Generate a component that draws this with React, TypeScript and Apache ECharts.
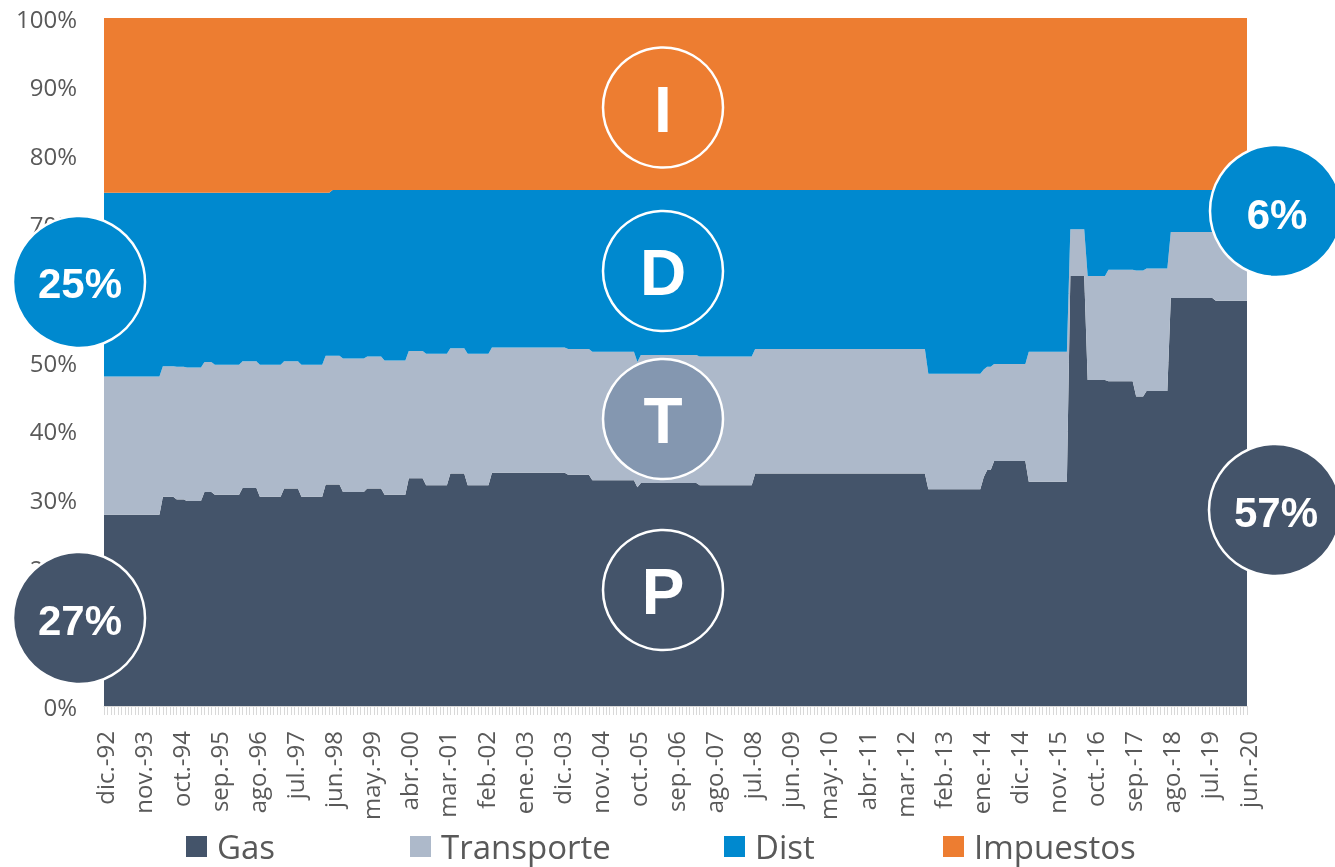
import React, { useEffect, useRef } from 'react';
import * as echarts from 'echarts';

// Month names (Spanish abbreviations) used for the category axis
const monthNames = ['ene.', 'feb.', 'mar.', 'abr.', 'may.', 'jun.', 'jul.', 'ago.', 'sep.', 'oct.', 'nov.', 'dic.'];
const firstYear = 1992;
const firstMonthIndex = 11; // dic.-92
const monthCount = 331; // dic.-92 .. jun.-20

// Runs of consecutive months holding the same shares
const runMonths = [17, 4, 3, 5, 3, 8, 5, 7, 5, 7, 2, 3, 7, 5, 7, 5, 7, 5, 7, 22, 7, 13, 1, 17, 16, 50, 16, 1, 2, 10, 12, 5, 6, 8, 3, 7, 13, 10];

const gasShare = [27.8, 30.4, 30.0, 29.8, 31.1, 30.7, 31.7, 30.4, 31.6, 30.4, 32.2, 32.2, 31.1, 31.6, 30.7, 33.1, 32.1, 33.8, 32.1, 33.9, 33.6, 32.8, 31.8, 32.4, 32.1, 33.8, 31.5, 33.3, 34.3, 35.6, 32.6, 62.5, 47.4, 47.2, 45.0, 45.8, 59.3, 58.9];
const transporteShare = [20.1, 19.0, 19.3, 19.4, 18.9, 18.9, 18.4, 19.2, 18.5, 19.2, 18.7, 18.7, 19.4, 19.2, 19.5, 18.5, 19.1, 18.2, 19.1, 18.2, 18.3, 18.7, 18.2, 18.6, 18.7, 18.1, 16.8, 15.6, 15.0, 14.1, 18.9, 6.8, 15.1, 16.2, 18.3, 17.8, 9.6, 10.0];
const distShare = [26.7, 25.2, 25.3, 25.4, 24.6, 25.0, 24.5, 25.0, 24.5, 25.0, 23.7, 24.1, 24.5, 24.2, 24.8, 23.4, 23.8, 23.0, 23.8, 22.9, 23.1, 23.5, 25.0, 24.0, 24.2, 23.1, 26.7, 26.1, 25.7, 25.3, 23.5, 5.7, 12.5, 11.6, 11.7, 11.4, 6.1, 6.1];
const impuestosShare = [25.4, 25.4, 25.4, 25.4, 25.4, 25.4, 25.4, 25.4, 25.4, 25.4, 25.4, 25.0, 25.0, 25.0, 25.0, 25.0, 25.0, 25.0, 25.0, 25.0, 25.0, 25.0, 25.0, 25.0, 25.0, 25.0, 25.0, 25.0, 25.0, 25.0, 25.0, 25.0, 25.0, 25.0, 25.0, 25.0, 25.0, 25.0];

const seriesNames = ['Gas', 'Transporte', 'Dist', 'Impuestos'];
const seriesColors = ['#44546A', '#ADB9CA', '#0089CF', '#ED7D31'];

// Annotation circles
const bigCircles = [
  { text: '25%', cx: 79, cy: 282, fill: '#0089CF', ty: 283 },
  { text: '27%', cx: 79, cy: 618, fill: '#44546A', ty: 620 },
  { text: '6%', cx: 1276, cy: 211, fill: '#0089CF', ty: 214 },
  { text: '57%', cx: 1275, cy: 510, fill: '#44546A', ty: 512 },
];
const letterCircles = [
  { text: 'I', cy: 107.5, fill: '#ED7D31' },
  { text: 'D', cy: 271, fill: '#0089CF' },
  { text: 'T', cy: 419, fill: '#8497B0' },
  { text: 'P', cy: 590, fill: '#44546A' },
];

function expandRuns(values: number[]): number[] {
  const out: number[] = [];
  values.forEach((v, k) => {
    for (let j = 0; j < runMonths[k]; j++) out.push(v);
  });
  return out;
}

function buildCategories(): string[] {
  const cats: string[] = [];
  for (let i = 0; i < monthCount; i++) {
    const m = (firstMonthIndex + i) % 12;
    const y = firstYear + Math.floor((firstMonthIndex + i) / 12);
    cats.push(monthNames[m] + '-' + String(y % 100).padStart(2, '0'));
  }
  return cats;
}

export default function App() {
  const ref = useRef<HTMLDivElement>(null);

  useEffect(() => {
    if (!ref.current) return;
    const chart = echarts.init(ref.current, undefined, { renderer: 'svg' });
    const categories = buildCategories();
    const shares = [gasShare, transporteShare, distShare, impuestosShare];
    const legendLefts = [186, 410, 724, 943];

    const graphic: any[] = [];
    letterCircles.forEach((c) => {
      graphic.push({
        type: 'circle',
        z: 100,
        shape: { cx: 663, cy: c.cy, r: 60 },
        style: { fill: c.fill, stroke: '#FFFFFF', lineWidth: 2.5 },
      });
      graphic.push({
        type: 'text',
        z: 101,
        x: 663,
        y: c.cy + 2,
        style: {
          text: c.text,
          fill: '#FFFFFF',
          font: 'bold 64px "Liberation Sans", Arial, sans-serif',
          textAlign: 'center',
          textVerticalAlign: 'middle',
          align: 'center',
          verticalAlign: 'middle',
        },
      });
    });
    bigCircles.forEach((c) => {
      graphic.push({
        type: 'circle',
        z: 100,
        shape: { cx: c.cx, cy: c.cy, r: 66 },
        style: { fill: c.fill, stroke: '#FFFFFF', lineWidth: 2.5 },
      });
      graphic.push({
        type: 'text',
        z: 101,
        x: c.cx + 1,
        y: c.ty,
        style: {
          text: c.text,
          fill: '#FFFFFF',
          font: 'bold 42px "Liberation Sans", Arial, sans-serif',
          textAlign: 'center',
          textVerticalAlign: 'middle',
          align: 'center',
          verticalAlign: 'middle',
        },
      });
    });

    chart.setOption({
      animation: false,
      textStyle: { fontFamily: '"Open Sans", sans-serif' },
      grid: { left: 104, right: 88, top: 18, bottom: 161, containLabel: false },
      legend: seriesNames.map((name, k) => ({
        data: [name],
        left: legendLefts[k],
        top: 830,
        padding: 0,
        itemGap: 0,
        icon: 'rect',
        itemWidth: 21,
        itemHeight: 21,
        selectedMode: false,
        textStyle: {
          fontSize: 33,
          lineHeight: 33,
          color: '#595959',
          fontFamily: '"Open Sans", sans-serif',
          padding: [0, 0, 0, 5],
        },
      })),
      xAxis: {
        type: 'category',
        boundaryGap: false,
        data: categories,
        axisLine: { show: true, lineStyle: { color: '#D9D9D9', width: 1 } },
        axisTick: { show: true, interval: 0, length: 9, lineStyle: { color: '#D9D9D9', width: 1 } },
        axisLabel: {
          interval: 10,
          rotate: 90,
          margin: 25,
          fontSize: 24,
          color: '#595959',
          fontFamily: '"Open Sans", sans-serif',
        },
        splitLine: { show: false },
      },
      yAxis: {
        type: 'value',
        min: 0,
        max: 100,
        interval: 10,
        axisLine: { show: false },
        axisTick: { show: false },
        axisLabel: {
          formatter: '{value}%',
          fontSize: 24,
          color: '#595959',
          margin: 27,
          fontFamily: '"Open Sans", sans-serif',
        },
        splitLine: { show: true, lineStyle: { color: '#D9D9D9', width: 1 } },
      },
      series: seriesNames.map((name, k) => ({
        name,
        type: 'line',
        stack: 'total',
        data: expandRuns(shares[k]),
        color: seriesColors[k],
        showSymbol: false,
        symbol: 'none',
        lineStyle: { width: 0 },
        itemStyle: { color: seriesColors[k] },
        areaStyle: { color: seriesColors[k], opacity: 1 },
        emphasis: { disabled: true },
      })),
      graphic,
    });

    return () => {
      chart.dispose();
    };
  }, []);

  return (
    <div
      ref={ref}
      style={{ position: 'fixed', left: 0, top: 0, width: 1335, height: 867 }}
    />
  );
}
